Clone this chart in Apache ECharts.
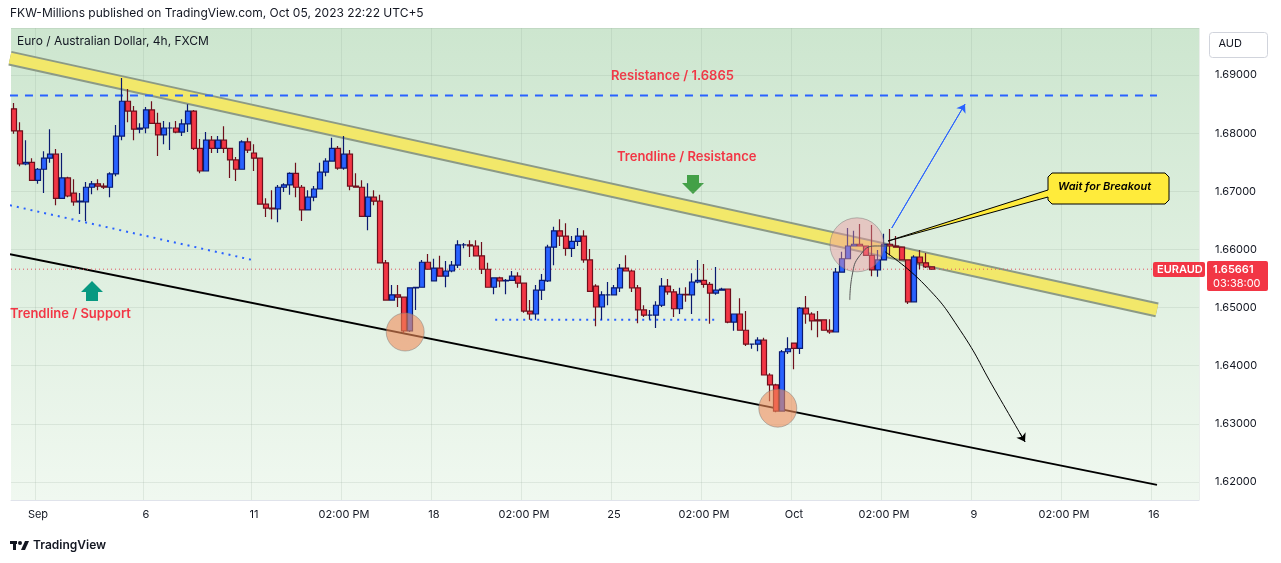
<!DOCTYPE html>
<html>
<head>
<meta charset="utf-8">
<script src="https://cdn.jsdelivr.net/npm/echarts@6/dist/echarts.min.js"></script>
<style>
  html, body { margin: 0; padding: 0; background: #fff; }
  #chart { width: 1281px; height: 563px; }
</style>
</head>
<body>
<div id="chart"></div>
<script>
// 4h candles EURAUD, index 0 = Aug 31 08:00
const opens = [1.6842,1.6804,1.6747,1.6750,1.6719,1.6738,1.6757,1.6764,1.6688,1.6723,
  1.6697,1.6682,1.6682,1.6707,1.6713,1.6709,1.6707,1.6730,1.6795,1.6855,
  1.6838,1.6807,1.6809,1.6840,1.6817,1.6797,1.6809,1.6809,1.6802,1.6816,
  1.6838,1.6774,1.6735,1.6788,1.6774,1.6788,1.6774,1.6754,1.6738,1.6785,
  1.6766,1.6757,1.6678,1.6671,1.6670,1.6707,1.6711,1.6731,1.6707,1.6668,
  1.6690,1.6704,1.6733,1.6752,1.6774,1.6740,1.6764,1.6709,1.6707,1.6657,
  1.6690,1.6683,1.6577,1.6513,1.6522,1.6518,1.6460,1.6534,1.6535,1.6578,
  1.6546,1.6568,1.6554,1.6563,1.6573,1.6608,1.6608,1.6606,1.6589,1.6566,
  1.6535,1.6551,1.6546,1.6547,1.6554,1.6542,1.6494,1.6489,1.6530,1.6546,
  1.6604,1.6632,1.6623,1.6602,1.6614,1.6623,1.6582,1.6537,1.6501,1.6522,
  1.6522,1.6534,1.6568,1.6563,1.6534,1.6496,1.6487,1.6487,1.6504,1.6537,
  1.6527,1.6498,1.6523,1.6522,1.6544,1.6547,1.6540,1.6525,1.6530,1.6532,
  1.6475,1.6489,1.6461,1.6437,1.6437,1.6444,1.6384,1.6367,1.6322,1.6424,
  1.6439,1.6430,1.6499,1.6489,1.6479,1.6479,1.6461,1.6458,1.6561,1.6584,
  1.6606,1.6609,1.6606,1.6590,1.6565,1.6582,1.6609,1.6606,1.6604,1.6582,
  1.6510,1.6587,1.6577,1.6570];
const closes = [1.6804,1.6747,1.6750,1.6719,1.6738,1.6757,1.6764,1.6688,1.6723,1.6692,
  1.6682,1.6683,1.6707,1.6713,1.6709,1.6707,1.6730,1.6795,1.6855,1.6838,
  1.6807,1.6809,1.6840,1.6817,1.6797,1.6809,1.6809,1.6802,1.6816,1.6838,
  1.6774,1.6735,1.6788,1.6774,1.6788,1.6774,1.6754,1.6738,1.6785,1.6771,
  1.6757,1.6678,1.6671,1.6670,1.6707,1.6711,1.6731,1.6707,1.6668,1.6690,
  1.6704,1.6733,1.6752,1.6774,1.6740,1.6764,1.6709,1.6707,1.6657,1.6690,
  1.6683,1.6577,1.6513,1.6522,1.6518,1.6460,1.6534,1.6535,1.6578,1.6566,
  1.6568,1.6554,1.6563,1.6573,1.6608,1.6608,1.6606,1.6589,1.6566,1.6535,
  1.6551,1.6546,1.6547,1.6554,1.6542,1.6494,1.6489,1.6530,1.6547,1.6604,
  1.6632,1.6623,1.6602,1.6614,1.6623,1.6582,1.6528,1.6501,1.6522,1.6522,
  1.6534,1.6568,1.6563,1.6534,1.6496,1.6487,1.6487,1.6504,1.6537,1.6527,
  1.6498,1.6523,1.6522,1.6544,1.6547,1.6540,1.6525,1.6530,1.6532,1.6475,
  1.6489,1.6461,1.6437,1.6437,1.6444,1.6384,1.6367,1.6322,1.6424,1.6429,
  1.6430,1.6499,1.6489,1.6477,1.6477,1.6461,1.6458,1.6561,1.6584,1.6606,
  1.6609,1.6606,1.6590,1.6565,1.6582,1.6609,1.6606,1.6604,1.6582,1.6510,
  1.6587,1.6577,1.6570,1.6566];
const lows = [1.6799,1.6743,1.6745,1.6719,1.6713,1.6697,1.6749,1.6676,1.6687,1.6690,
  1.6675,1.6661,1.6649,1.6695,1.6702,1.6704,1.6690,1.6726,1.6788,1.6819,
  1.6788,1.6800,1.6800,1.6817,1.6761,1.6781,1.6771,1.6800,1.6795,1.6802,
  1.6771,1.6731,1.6735,1.6766,1.6766,1.6766,1.6723,1.6718,1.6738,1.6766,
  1.6735,1.6678,1.6656,1.6652,1.6647,1.6699,1.6694,1.6690,1.6649,1.6668,
  1.6683,1.6704,1.6726,1.6752,1.6737,1.6737,1.6702,1.6706,1.6657,1.6633,
  1.6676,1.6577,1.6513,1.6513,1.6501,1.6456,1.6458,1.6496,1.6534,1.6566,
  1.6546,1.6554,1.6535,1.6561,1.6568,1.6602,1.6587,1.6589,1.6558,1.6535,
  1.6523,1.6535,1.6523,1.6546,1.6534,1.6491,1.6479,1.6479,1.6513,1.6544,
  1.6573,1.6606,1.6589,1.6587,1.6606,1.6577,1.6528,1.6468,1.6479,1.6504,
  1.6522,1.6527,1.6563,1.6527,1.6473,1.6484,1.6479,1.6465,1.6501,1.6522,
  1.6484,1.6489,1.6510,1.6489,1.6542,1.6534,1.6472,1.6522,1.6530,1.6473,
  1.6460,1.6461,1.6434,1.6429,1.6425,1.6384,1.6339,1.6320,1.6322,1.6420,
  1.6394,1.6420,1.6472,1.6461,1.6449,1.6461,1.6455,1.6458,1.6561,1.6584,
  1.6606,1.6606,1.6590,1.6554,1.6553,1.6582,1.6590,1.6604,1.6582,1.6506,
  1.6510,1.6566,1.6568,1.6566];
const highs = [1.6852,1.6819,1.6788,1.6757,1.6740,1.6769,1.6807,1.6773,1.6766,1.6725,
  1.6721,1.6697,1.6716,1.6718,1.6721,1.6714,1.6733,1.6814,1.6895,1.6876,
  1.6847,1.6817,1.6845,1.6855,1.6835,1.6821,1.6819,1.6821,1.6824,1.6850,
  1.6840,1.6790,1.6802,1.6795,1.6795,1.6812,1.6774,1.6759,1.6788,1.6792,
  1.6781,1.6757,1.6688,1.6702,1.6711,1.6714,1.6733,1.6749,1.6711,1.6702,
  1.6709,1.6749,1.6757,1.6792,1.6778,1.6795,1.6771,1.6731,1.6719,1.6714,
  1.6702,1.6694,1.6582,1.6539,1.6539,1.6518,1.6535,1.6535,1.6582,1.6592,
  1.6584,1.6589,1.6580,1.6580,1.6616,1.6611,1.6616,1.6616,1.6613,1.6577,
  1.6551,1.6553,1.6549,1.6563,1.6561,1.6542,1.6513,1.6539,1.6558,1.6608,
  1.6639,1.6652,1.6645,1.6623,1.6637,1.6633,1.6601,1.6540,1.6528,1.6544,
  1.6539,1.6575,1.6590,1.6565,1.6539,1.6504,1.6496,1.6511,1.6551,1.6549,
  1.6532,1.6534,1.6535,1.6559,1.6582,1.6575,1.6544,1.6570,1.6534,1.6532,
  1.6489,1.6516,1.6494,1.6437,1.6449,1.6448,1.6387,1.6369,1.6427,1.6449,
  1.6439,1.6501,1.6520,1.6492,1.6494,1.6480,1.6480,1.6568,1.6596,1.6637,
  1.6632,1.6644,1.6606,1.6642,1.6599,1.6627,1.6635,1.6623,1.6604,1.6582,
  1.6590,1.6599,1.6594,1.6570];

const totalSlots = 198;
const tickLabels = { 4: 'Sep', 22: '6', 40: '11', 55: '02:00 PM', 70: '18', 85: '02:00 PM',
  100: '25', 115: '02:00 PM', 130: 'Oct', 145: '02:00 PM', 160: '9', 175: '02:00 PM', 190: '16' };
const yTicks = [1.62, 1.63, 1.64, 1.65, 1.66, 1.67, 1.68, 1.69];
const lastPrice = 1.65661;

// drawing overlays in [bar index, price]
const resistanceBand = [[-0.67, 1.6929], [190.5, 1.6496]];
const supportLine = [[-0.67, 1.6592], [190.5, 1.6195]];
const resistanceLevel = 1.6865;
const dottedSlant = [[-0.67, 1.6676], [39.7, 1.6582]];
const dottedFlat = [[80.2, 1.6479], [117.3, 1.6479]];
const touchCircles = [[65.2, 1.6458], [127.3, 1.6327]];
const breakoutCircle = [[140.5, 1.6608]];
const upArrow = [[146.3, 1.6637], [158.5, 1.6850]];
const downCurve = [[145.2, 1.6596], [151.8, 1.6539], [157.7, 1.6461], [163.5, 1.6358], [168.5, 1.6269]];
const smallArc = [[139.3, 1.6513], [139.7, 1.6556], [141, 1.6590], [143.5, 1.6606], [145.7, 1.6606]];

const categories = [];
for (let i = 0; i < totalSlots; i++) categories.push(String(i));
const candleData = opens.map((o, i) => [o, closes[i], lows[i], highs[i]]);

const chart = echarts.init(document.getElementById('chart'));
const FONT = 'Inter, "Noto Sans", sans-serif';
const hasTick = (idx) => tickLabels[idx] !== undefined;

const lineSeries = (data, color, width, type, extra) => Object.assign({
  type: 'line', xAxisIndex: 1, data, symbol: 'none', silent: true,
  lineStyle: { color, width, type }, z: 3
}, extra || {});

chart.setOption({
  animation: false,
  grid: {
    left: 11, right: 82, top: 28, bottom: 63, show: true,
    borderWidth: 0,
    backgroundColor: new echarts.graphic.LinearGradient(0, 0, 0, 1, [
      { offset: 0, color: '#cde6cf' }, { offset: 1, color: '#f0f8f0' }])
  },
  xAxis: [{
    type: 'category', data: categories, boundaryGap: true,
    axisLine: { lineStyle: { color: '#e0e3eb' } }, axisTick: { show: false },
    axisLabel: { interval: (idx) => hasTick(idx), formatter: (v, idx) => tickLabels[idx] || '',
      color: '#131722', fontSize: 11, fontFamily: FONT, margin: 9 },
    splitLine: { show: true, interval: (idx) => hasTick(idx), lineStyle: { color: 'rgba(140,160,145,0.18)' } }
  }, {
    type: 'value', min: -0.5, max: totalSlots - 0.5, show: false
  }],
  yAxis: {
    type: 'value', position: 'right', min: 1.6169, max: 1.6981, splitNumber: 8, scale: true,
    axisLine: { show: false }, axisTick: { show: false },
    axisLabel: { color: '#131722', fontSize: 11, fontFamily: FONT, margin: 16,
      showMinLabel: false, showMaxLabel: false,
      formatter: (v) => yTicks.some(t => Math.abs(t - v) < 1e-6) ? v.toFixed(5) : '' },
    splitLine: { lineStyle: { color: 'rgba(140,160,145,0.18)' } }
  },
  series: [
    lineSeries(resistanceBand, '#8c9a86', 15, 'solid', { z: 2 }),
    lineSeries(resistanceBand, '#f2e86a', 11, 'solid', { z: 2 }),
    lineSeries(supportLine, '#000', 2, 'solid'),
    lineSeries([[-0.67, resistanceLevel], [190.5, resistanceLevel]], '#2962ff', 2, [8, 7]),
    lineSeries(dottedSlant, '#2962ff', 2, [2, 5]),
    lineSeries(dottedFlat, '#2962ff', 2, [2, 5]),
    lineSeries([[-0.5, lastPrice], [totalSlots - 0.5, lastPrice]], '#e0505e', 1, [1, 3], { z: 3 }),
    {
      type: 'candlestick', data: candleData, barWidth: 5, z: 4,
      itemStyle: { color: '#2962ff', color0: '#f23645', borderColor: '#0a1a70', borderColor0: '#6e0f1c', borderWidth: 1.2 }
    },
    { type: 'scatter', xAxisIndex: 1, data: touchCircles, symbolSize: 38, silent: true, z: 5,
      itemStyle: { color: 'rgba(240,140,90,0.75)', borderColor: 'rgba(120,120,120,0.6)', borderWidth: 1 } },
    { type: 'scatter', xAxisIndex: 1, data: breakoutCircle, symbolSize: 54, silent: true, z: 5,
      itemStyle: { color: 'rgba(240,150,160,0.55)', borderColor: 'rgba(120,120,120,0.6)', borderWidth: 1 } },
    lineSeries(smallArc, '#555', 1, 'solid', { smooth: true, z: 6 }),
    lineSeries(downCurve, '#000', 1, 'solid', { smooth: true, z: 6,
      markLine: { silent: true, symbol: ['none', 'arrow'], symbolSize: 8, label: { show: false },
        lineStyle: { color: '#000', width: 1, type: 'solid' },
        data: [[{ coord: [167.6, 1.6285] }, { coord: downCurve[4] }]] } }),
    lineSeries(upArrow, '#2962ff', 1, 'solid', { z: 6,
      markLine: { silent: true, symbol: ['none', 'arrow'], symbolSize: 8, label: { show: false },
        lineStyle: { color: '#2962ff', width: 1, type: 'solid' },
        data: [[{ coord: upArrow[0] }, { coord: upArrow[1] }]] } })
  ],
  graphic: [
    { type: 'text', left: 10, top: 7, style: { text: 'FKW-Millions published on TradingView.com, Oct 05, 2023 22:22 UTC+5', fill: '#131722', font: '12px ' + FONT } },
    { type: 'text', left: 17, top: 35, style: { text: 'Euro / Australian Dollar, 4h, FXCM', fill: '#131722', font: '12px ' + FONT } },
    { type: 'group', left: 1209, top: 32, children: [
      { type: 'rect', shape: { x: 0, y: 0, width: 58, height: 25, r: 3 }, style: { fill: '#fff', stroke: '#d1d4dc' } },
      { type: 'text', x: 9, y: 6, style: { text: 'AUD', fill: '#131722', font: '11px ' + FONT } }] },
    { type: 'text', left: 611, top: 70, style: { text: 'Resistance / 1.6865', fill: '#f23645', font: '600 13px ' + FONT } },
    { type: 'text', left: 617, top: 151, style: { text: 'Trendline / Resistance', fill: '#f23645', font: '600 13px ' + FONT } },
    { type: 'text', left: 10, top: 308, style: { text: 'Trendline / Support', fill: '#f23645', font: '600 13px ' + FONT } },
    { type: 'polygon', shape: { points: [[687, 175], [699, 175], [699, 183], [704, 183], [693, 194], [682, 183], [687, 183]] }, style: { fill: '#43a047' } },
    { type: 'polygon', shape: { points: [[92, 281], [103, 292], [98, 292], [98, 301], [86, 301], [86, 292], [81, 292]] }, style: { fill: '#089981' } },
    { type: 'polygon', z: 10, shape: { points: [[1052, 173], [1165, 173], [1169, 177], [1169, 200], [1165, 204], [1052, 204], [1048, 200], [1048, 197], [888, 241], [1048, 190], [1048, 177]] },
      style: { fill: '#ffeb3b', stroke: '#000', lineWidth: 1 } },
    { type: 'text', z: 11, left: 1058, top: 181, style: { text: 'Wait for Breakout', fill: '#000', font: 'italic 600 11px ' + FONT } },
    { type: 'group', left: 1153, top: 261, z: 10, children: [
      { type: 'rect', shape: { x: 0, y: 1, width: 52, height: 15, r: 2 }, style: { fill: '#f23645' } },
      { type: 'text', x: 4, y: 3, style: { text: 'EURAUD', fill: '#fff', font: '600 11px ' + FONT } },
      { type: 'rect', shape: { x: 54, y: 0, width: 61, height: 30, r: 2 }, style: { fill: '#f23645' } },
      { type: 'text', x: 60, y: 3, style: { text: '1.65661', fill: '#fff', font: '600 11px ' + FONT } },
      { type: 'text', x: 60, y: 17, style: { text: '03:38:00', fill: '#fff', font: '11px ' + FONT } }] },
    { type: 'group', left: 10, top: 539, children: [
      { type: 'rect', shape: { x: 0, y: 2, width: 7, height: 3 }, style: { fill: '#131722' } },
      { type: 'rect', shape: { x: 3, y: 2, width: 3, height: 9 }, style: { fill: '#131722' } },
      { type: 'circle', shape: { cx: 10, cy: 4, r: 2 }, style: { fill: '#131722' } },
      { type: 'polygon', shape: { points: [[15, 2], [19, 2], [15, 11], [11, 11]] }, style: { fill: '#131722' } },
      { type: 'text', x: 23, y: 0, style: { text: 'TradingView', fill: '#131722', font: '600 12px ' + FONT } }] }
  ]
});
</script>
</body>
</html>
